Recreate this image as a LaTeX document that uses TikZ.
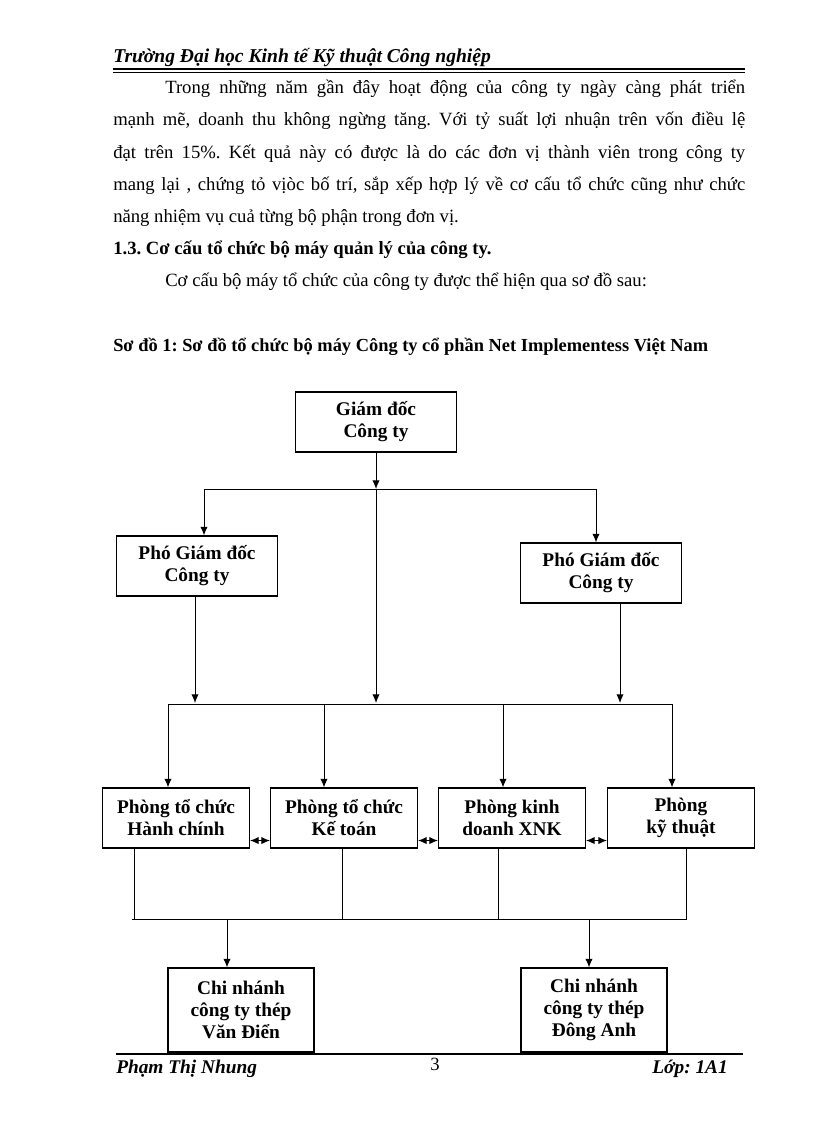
\documentclass[tikz,border=0pt]{standalone}
\usepackage{fontspec}
\setmainfont{Liberation Serif}
\usetikzlibrary{arrows.meta}
\frenchspacing

\tikzset{
  unit/.style={draw, line width=0.8pt, align=center, inner sep=2pt,
    font=\fontsize{14.5}{16.5}\selectfont\bfseries},
  boss/.style={unit, minimum width=120.75pt, minimum height=45pt},
  dept/.style={unit, minimum width=110.25pt, minimum height=45pt},
  branch/.style={unit, minimum width=109.5pt, minimum height=63pt},
  link/.style={line width=0.75pt},
  body/.style={anchor=base west, inner sep=0pt, font=\fontsize{14}{16}\selectfont}
}

\begin{document}
\begin{tikzpicture}[x=0.75pt, y=-0.75pt, >={Latex[length=6.5pt,width=5.5pt]}]
            \useasboundingbox (0,0) rectangle (816,1123);
            \fill[white] (0,0) rectangle (816,1123);

            % Header
            \node[body, font=\fontsize{14.7}{16}\selectfont\bfseries\itshape] (head) at (113,63) {Trường Đại học Kinh tế Kỹ thuật Công nghiệp};
            \draw[line width=0.8pt] (113,69) -- (745,69);
            \draw[line width=0.5pt] (113,72) -- (745,72);

            % Text
            \node[body] (l1) at (165,94) {\makebox[435pt][s]{Trong những năm gần đây hoạt động của công ty ngày càng phát triển}};
            \node[body] (l2) at (113,126) {\makebox[474pt][s]{mạnh mẽ, doanh thu không ngừng tăng. Với tỷ suất lợi nhuận trên vốn điều lệ}};
            \node[body] (l3) at (113,159) {\makebox[474pt][s]{đạt trên 15\%. Kết quả này có được là do các đơn vị thành viên trong công ty}};
            \node[body] (l4) at (113,191) {\makebox[474pt][s]{mang lại , chứng tỏ vịòc bố trí, sắp xếp hợp lý về cơ cấu tổ chức cũng như chức}};
            \node[body] (l5) at (113,223) {năng nhiệm vụ cuả từng bộ phận trong đơn vị.};
            \node[body, font=\fontsize{14}{16}\selectfont\bfseries] (sec) at (113,254) {1.3. Cơ cấu tổ chức bộ máy quản lý của công ty.};
            \node[body] (l6) at (165,286) {Cơ cấu bộ máy tổ chức của công ty được thể hiện qua sơ đồ sau:};
            \node[body, font=\fontsize{13.8}{16}\selectfont\bfseries] (cap) at (113,351) {Sơ đồ 1: Sơ đồ tổ chức bộ máy Công ty cổ phần Net Implementess Việt Nam};

            % Boxes
            \node[boss] (gd) at (376,422) {Giám đốc\\Công ty};
            \node[boss] (pgd1) at (197,566) {Phó Giám đốc\\Công ty};
            \node[boss] (pgd2) at (601,573) {Phó Giám đốc\\Công ty};
            \node[dept] (hc) at (176,818) {Phòng tổ chức\\Hành chính};
            \node[dept] (kt) at (344,818) {Phòng tổ chức\\Kế toán};
            \node[dept] (kd) at (512,818) {Phòng kinh\\doanh XNK};
            \node[dept] (ky) at (681,818) {Phòng\\kỹ thuật};
            \node[branch] (vd) at (241,1010) {Chi nhánh\\công ty thép\\Văn Điển};
            \node[branch] (da) at (594,1010) {Chi nhánh\\công ty thép\\Đông Anh};

            % Top level
            \coordinate (top) at (376,489);
            \coordinate (topL) at (204,489);
            \coordinate (topR) at (596,489);
            \draw[link,->] (gd) -- (top);
            \draw[link] (topL) -- (topR);
            \draw[link,->] (topL) -- (topL |- pgd1.north);
            \draw[link,->] (topR) -- (topR |- pgd2.north);

            % Middle level
            \coordinate (mid) at (376,703);
            \coordinate (midA) at (195,703);
            \coordinate (midB) at (620,703);
            \coordinate (midL) at (168,704);
            \coordinate (midR) at (672,704);
            \draw[link,->] (top) -- (mid);
            \draw[link,->] (pgd1.south -| midA) -- (midA);
            \draw[link,->] (pgd2.south -| midB) -- (midB);
            \draw[link] (midL) -- (midR);
            \foreach \x/\n in {168/hc, 324/kt, 503/kd, 672/ky} {
                \coordinate (t) at (\x,704);
                \draw[link,->] (t) -- (t |- \n.north);
            }

            % Between departments
            \draw[link,<->] ([yshift=6pt]hc.south east) -- ([yshift=6pt]kt.south west);
            \draw[link,<->] ([yshift=6pt]kt.south east) -- ([yshift=6pt]kd.south west);
            \draw[link,<->] ([yshift=6pt]kd.south east) -- ([yshift=6pt]ky.south west);

            % Bottom level
            \coordinate (botL) at (132,919);
            \coordinate (botR) at (687,919);
            \foreach \x/\n in {134/hc, 342/kt, 498/kd, 686/ky} {
                \coordinate (b) at (\x,919);
                \draw[link] (b |- \n.south) -- (b);
            }
            \draw[link] (botL) -- (botR);
            \coordinate (bv) at (227,919);
            \coordinate (bd) at (589,919);
            \draw[link,->] (bv) -- (bv |- vd.north);
            \draw[link,->] (bd) -- (bd |- da.north);

            % Footer
            \draw[line width=1.5pt] (116,1054) -- (743,1054);
            \node[body, font=\fontsize{14.5}{16}\selectfont\bfseries\itshape] (name) at (116,1073) {Phạm Thị Nhung};
            \node[body, anchor=base] (page) at (435,1070) {3};
            \node[body, anchor=base east, font=\fontsize{14.5}{16}\selectfont\bfseries\itshape] (cls) at (728,1073) {Lớp: 1A1};

        \end{tikzpicture}
\end{document}
